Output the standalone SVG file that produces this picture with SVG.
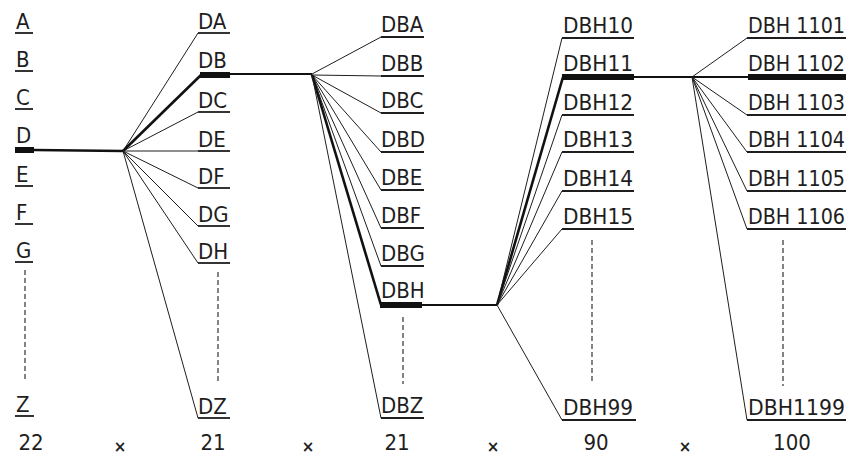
<svg xmlns="http://www.w3.org/2000/svg" width="857" height="460" viewBox="0 0 857 460">
<style>
.lbl{font-family:"DejaVu Sans Condensed","DejaVu Sans","Liberation Sans",sans-serif;font-size:22px;fill:#1e1e1e}
.num{font-family:"DejaVu Sans Condensed","DejaVu Sans","Liberation Sans",sans-serif;font-size:22px;fill:#1e1e1e;text-anchor:middle}
.x{font-family:"DejaVu Sans","Liberation Sans",sans-serif;font-size:15px;font-weight:bold;fill:#1e1e1e;text-anchor:middle}
.ul{stroke:#1e1e1e;stroke-width:1.8;fill:none}
.thin{stroke:#1e1e1e;stroke-width:1;fill:none}
.thick{stroke:#111;stroke-width:2.6;fill:none}
.mid{stroke:#111;stroke-width:2;fill:none}
.bar{fill:#111}
.dash{stroke:#333;stroke-width:1.2;stroke-dasharray:5 3;fill:none}
</style>
<rect width="857" height="460" fill="#fff"/>

<g id="col1">
  <g id="n-A"><text class="lbl" x="16" y="29">A</text><line class="ul" x1="15" y1="33" x2="33" y2="33"/></g>
  <g id="n-B"><text class="lbl" x="16" y="67">B</text><line class="ul" x1="15" y1="71" x2="33" y2="71"/></g>
  <g id="n-C"><text class="lbl" x="16" y="105">C</text><line class="ul" x1="15" y1="109" x2="33" y2="109"/></g>
  <g id="n-D"><text class="lbl" x="16" y="143">D</text><rect class="bar" x="15" y="147" width="19" height="6"/></g>
  <g id="n-E"><text class="lbl" x="16" y="182">E</text><line class="ul" x1="15" y1="186" x2="33" y2="186"/></g>
  <g id="n-F"><text class="lbl" x="16" y="220">F</text><line class="ul" x1="15" y1="224" x2="33" y2="224"/></g>
  <g id="n-G"><text class="lbl" x="16" y="258">G</text><line class="ul" x1="15" y1="262" x2="33" y2="262"/></g>
  <g id="n-Z"><text class="lbl" x="16" y="412">Z</text><line class="ul" x1="15" y1="416" x2="34" y2="416"/></g>
</g>

<g id="col2">
  <g id="n-DA"><text class="lbl" x="198" y="29">DA</text><line class="ul" x1="198" y1="33" x2="230" y2="33"/></g>
  <g id="n-DB"><text class="lbl" x="198" y="68">DB</text><rect class="bar" x="200" y="72" width="30" height="6"/></g>
  <g id="n-DC"><text class="lbl" x="198" y="108">DC</text><line class="ul" x1="198" y1="112" x2="230" y2="112"/></g>
  <g id="n-DE"><text class="lbl" x="198" y="147">DE</text><line class="ul" x1="198" y1="151" x2="230" y2="151"/></g>
  <g id="n-DF"><text class="lbl" x="198" y="184">DF</text><line class="ul" x1="198" y1="188" x2="230" y2="188"/></g>
  <g id="n-DG"><text class="lbl" x="198" y="222">DG</text><line class="ul" x1="198" y1="226" x2="230" y2="226"/></g>
  <g id="n-DH"><text class="lbl" x="198" y="259">DH</text><line class="ul" x1="198" y1="263" x2="230" y2="263"/></g>
  <g id="n-DZ"><text class="lbl" x="198" y="414">DZ</text><line class="ul" x1="198" y1="418" x2="230" y2="418"/></g>
</g>

<g id="col3">
  <g id="n-DBA"><text class="lbl" x="381" y="32">DBA</text><line class="ul" x1="381" y1="37" x2="424" y2="37"/></g>
  <g id="n-DBB"><text class="lbl" x="381" y="71">DBB</text><line class="ul" x1="381" y1="76" x2="424" y2="76"/></g>
  <g id="n-DBC"><text class="lbl" x="381" y="108">DBC</text><line class="ul" x1="381" y1="113" x2="424" y2="113"/></g>
  <g id="n-DBD"><text class="lbl" x="381" y="147">DBD</text><line class="ul" x1="381" y1="152" x2="424" y2="152"/></g>
  <g id="n-DBE"><text class="lbl" x="381" y="185">DBE</text><line class="ul" x1="381" y1="190" x2="424" y2="190"/></g>
  <g id="n-DBF"><text class="lbl" x="381" y="223">DBF</text><line class="ul" x1="381" y1="228" x2="424" y2="228"/></g>
  <g id="n-DBG"><text class="lbl" x="381" y="261">DBG</text><line class="ul" x1="381" y1="266" x2="424" y2="266"/></g>
  <g id="n-DBH"><text class="lbl" x="381" y="298">DBH</text><rect class="bar" x="380" y="302" width="42" height="6"/></g>
  <g id="n-DBZ"><text class="lbl" x="381" y="413">DBZ</text><line class="ul" x1="381" y1="418" x2="424" y2="418"/></g>
</g>

<g id="col4">
  <g id="n-DBH10"><text class="lbl" x="563" y="33" textLength="70" lengthAdjust="spacingAndGlyphs">DBH10</text><line class="ul" x1="562" y1="38" x2="634" y2="38"/></g>
  <g id="n-DBH11"><text class="lbl" x="563" y="71" textLength="70" lengthAdjust="spacingAndGlyphs">DBH11</text><rect class="bar" x="562" y="74" width="72" height="6"/></g>
  <g id="n-DBH12"><text class="lbl" x="563" y="110" textLength="70" lengthAdjust="spacingAndGlyphs">DBH12</text><line class="ul" x1="562" y1="115" x2="634" y2="115"/></g>
  <g id="n-DBH13"><text class="lbl" x="563" y="147" textLength="70" lengthAdjust="spacingAndGlyphs">DBH13</text><line class="ul" x1="562" y1="152" x2="634" y2="152"/></g>
  <g id="n-DBH14"><text class="lbl" x="563" y="186" textLength="70" lengthAdjust="spacingAndGlyphs">DBH14</text><line class="ul" x1="562" y1="191" x2="634" y2="191"/></g>
  <g id="n-DBH15"><text class="lbl" x="563" y="224" textLength="70" lengthAdjust="spacingAndGlyphs">DBH15</text><line class="ul" x1="562" y1="229" x2="634" y2="229"/></g>
  <g id="n-DBH99"><text class="lbl" x="563" y="415" textLength="70" lengthAdjust="spacingAndGlyphs">DBH99</text><line class="ul" x1="562" y1="420" x2="636" y2="420"/></g>
</g>

<g id="col5">
  <g id="n-DBH1101"><text class="lbl" x="748" y="33" textLength="97" lengthAdjust="spacingAndGlyphs">DBH 1101</text><line class="ul" x1="747" y1="38" x2="846" y2="38"/></g>
  <g id="n-DBH1102"><text class="lbl" x="748" y="71" textLength="97" lengthAdjust="spacingAndGlyphs">DBH 1102</text><rect class="bar" x="748" y="74" width="98" height="6"/></g>
  <g id="n-DBH1103"><text class="lbl" x="748" y="110" textLength="97" lengthAdjust="spacingAndGlyphs">DBH 1103</text><line class="ul" x1="747" y1="115" x2="846" y2="115"/></g>
  <g id="n-DBH1104"><text class="lbl" x="748" y="147" textLength="97" lengthAdjust="spacingAndGlyphs">DBH 1104</text><line class="ul" x1="747" y1="152" x2="846" y2="152"/></g>
  <g id="n-DBH1105"><text class="lbl" x="748" y="186" textLength="97" lengthAdjust="spacingAndGlyphs">DBH 1105</text><line class="ul" x1="747" y1="191" x2="846" y2="191"/></g>
  <g id="n-DBH1106"><text class="lbl" x="748" y="224" textLength="97" lengthAdjust="spacingAndGlyphs">DBH 1106</text><line class="ul" x1="747" y1="229" x2="846" y2="229"/></g>
  <g id="n-DBH1199"><text class="lbl" x="748" y="415" textLength="97" lengthAdjust="spacingAndGlyphs">DBH1199</text><line class="ul" x1="747" y1="420" x2="846" y2="420"/></g>
</g>

<g id="connectors">
  <!-- dotted continuations -->
  <line class="dash" x1="25" y1="270" x2="25" y2="380"/>
  <line class="dash" x1="218" y1="272" x2="218" y2="382"/>
  <line class="dash" x1="403" y1="317" x2="403" y2="384"/>
  <line class="dash" x1="592" y1="240" x2="592" y2="384"/>
  <line class="dash" x1="783" y1="240" x2="783" y2="386"/>

  <!-- hub 1 -->
  <line class="thick" x1="34" y1="150" x2="123" y2="151"/>
  <line class="thin" x1="123" y1="151" x2="198" y2="33"/>
  <line class="thick" x1="123" y1="151" x2="201" y2="75"/>
  <line class="thin" x1="123" y1="151" x2="198" y2="112"/>
  <line class="thin" x1="123" y1="151" x2="198" y2="151"/>
  <line class="thin" x1="123" y1="151" x2="198" y2="188"/>
  <line class="thin" x1="123" y1="151" x2="198" y2="226"/>
  <line class="thin" x1="123" y1="151" x2="198" y2="263"/>
  <line class="thin" x1="123" y1="151" x2="198" y2="418"/>

  <!-- hub 2 -->
  <line class="mid" x1="229" y1="74" x2="312" y2="74"/>
  <line class="thin" x1="312" y1="74" x2="381" y2="37"/>
  <line class="thin" x1="312" y1="75" x2="381" y2="76"/>
  <line class="thin" x1="312" y1="75" x2="381" y2="113"/>
  <line class="thin" x1="312" y1="75" x2="381" y2="152"/>
  <line class="thin" x1="312" y1="75" x2="381" y2="190"/>
  <line class="thin" x1="312" y1="75" x2="381" y2="228"/>
  <line class="thin" x1="312" y1="75" x2="381" y2="266"/>
  <line class="thick" x1="312" y1="75" x2="381" y2="305"/>
  <line class="thin" x1="312" y1="75" x2="381" y2="418"/>

  <!-- hub 3 -->
  <line class="mid" x1="421" y1="305" x2="497" y2="305"/>
  <line class="thin" x1="497" y1="305" x2="562" y2="38"/>
  <line class="thick" x1="497" y1="305" x2="563" y2="77"/>
  <line class="thin" x1="497" y1="305" x2="562" y2="115"/>
  <line class="thin" x1="497" y1="305" x2="562" y2="152"/>
  <line class="thin" x1="497" y1="305" x2="562" y2="191"/>
  <line class="thin" x1="497" y1="305" x2="562" y2="229"/>
  <line class="thin" x1="497" y1="305" x2="562" y2="420"/>

  <!-- hub 4 -->
  <line class="mid" x1="633" y1="77" x2="692" y2="77"/>
  <line class="thin" x1="692" y1="77" x2="747" y2="38"/>
  <line class="mid" x1="692" y1="77" x2="749" y2="77"/>
  <line class="thin" x1="692" y1="77" x2="747" y2="115"/>
  <line class="thin" x1="692" y1="77" x2="747" y2="152"/>
  <line class="thin" x1="692" y1="77" x2="747" y2="191"/>
  <line class="thin" x1="692" y1="77" x2="747" y2="229"/>
  <line class="thin" x1="692" y1="77" x2="747" y2="420"/>
</g>

<g id="counts">
  <text class="num" x="31" y="450">22</text>
  <text class="x" x="120" y="452">×</text>
  <text class="num" x="213" y="450">21</text>
  <text class="x" x="308" y="452">×</text>
  <text class="num" x="397" y="450">21</text>
  <text class="x" x="493" y="452">×</text>
  <text class="num" x="596" y="450">90</text>
  <text class="x" x="685" y="452">×</text>
  <text class="num" x="792" y="450">100</text>
</g>
</svg>
